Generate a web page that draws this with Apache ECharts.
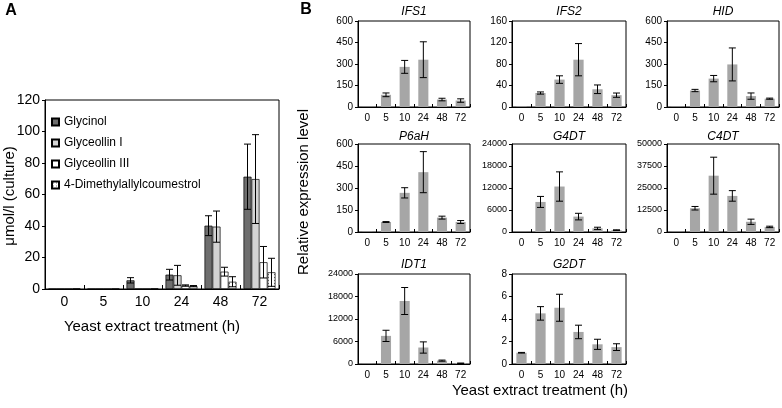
<!DOCTYPE html>
<html><head><meta charset="utf-8">
<script src="https://cdn.jsdelivr.net/npm/echarts@6.0.0/dist/echarts.min.js"></script>
<style>html,body{margin:0;padding:0;background:#fff}#c{width:782px;height:408px}</style>
</head><body><div id="c"></div>
<script>
// ---------- data ----------
const categories = ['0', '5', '10', '24', '48', '72'];

// Panel A (µmol/l culture)
const seriesNamesA = ['Glycinol', 'Glyceollin I', 'Glyceollin III', '4-Dimethylallylcoumestrol'];
const glycinol = [0, 0, 5.5, 9.1, 40.2, 71.3];
const glycinolErr = [0, 0, 1.7, 3.4, 6.3, 20.7];
const glyceollinI = [0, 0, 0, 8.7, 39.6, 69.8];
const glyceollinIErr = [0, 0, 0, 6.3, 9.9, 28.2];
const glyceollinIII = [0, 0, 0, 2.2, 11, 17];
const glyceollinIIIErr = [0, 0, 0, 0.4, 2.8, 10];
const dmc = [0.3, 0.2, 0.3, 1.8, 4.6, 10.6];
const dmcErr = [0, 0, 0, 0.4, 3.2, 8.9];

// Panel B (relative expression level)
const geneNames = ['IFS1', 'IFS2', 'HID', 'P6aH', 'G4DT', 'C4DT', 'IDT1', 'G2DT'];
const ifs1 = [1, 85, 280, 330, 52, 45];
const ifs1Err = [0, 13, 45, 125, 9, 12];
const ifs2 = [1, 26, 51, 88, 33, 22];
const ifs2Err = [0, 2, 7, 30, 8, 4];
const hid = [2, 115, 198, 297, 76, 58];
const hidErr = [0, 8, 22, 115, 22, 4];
const p6ah = [2, 68, 267, 408, 98, 68];
const p6ahErr = [0, 3, 35, 140, 10, 10];
const g4dt = [30, 8200, 12400, 4200, 1000, 500];
const g4dtErr = [0, 1500, 4000, 900, 300, 100];
const c4dt = [100, 13500, 32000, 20500, 5800, 2900];
const c4dtErr = [0, 1000, 10500, 3000, 1500, 400];
const idt1 = [50, 7500, 16800, 4400, 900, 200];
const idt1Err = [0, 1500, 3600, 1500, 150, 50];
const g2dt = [1, 4.5, 5, 2.85, 1.75, 1.5];
const g2dtErr = [0.03, 0.6, 1.2, 0.6, 0.45, 0.3];

// y-axis ticks (max, interval) per gene panel
const yMaxB = [600, 160, 600, 600, 24000, 50000, 24000, 8];
const yIntB = [150, 40, 150, 150, 6000, 12500, 6000, 2];
const yMaxA = 120, yIntA = 20;

// ---------- build ----------
const FONT = '"Liberation Sans", Arial, sans-serif';
const chart = echarts.init(document.getElementById('c'), null, {renderer: 'canvas'});

// dotted pattern for 4-DMC
const pc = document.createElement('canvas');
pc.width = 3; pc.height = 3;
const pctx = pc.getContext('2d');
pctx.fillStyle = '#fff'; pctx.fillRect(0, 0, 3, 3);
pctx.fillStyle = '#777'; pctx.fillRect(1, 1, 1, 1);

const valsA = [glycinol, glyceollinI, glyceollinIII, dmc];
const errsA = [glycinolErr, glyceollinIErr, glyceollinIIIErr, dmcErr];
const colorsA = ['#6e6e6e', '#d3d3d3', '#ffffff', {image: pc, repeat: 'repeat'}];
const valsB = [ifs1, ifs2, hid, p6ah, g4dt, c4dt, idt1, g2dt];
const errsB = [ifs1Err, ifs2Err, hidErr, p6ahErr, g4dtErr, c4dtErr, idt1Err, g2dtErr];

const colLeft = [358, 512, 667], colW = [112, 114, 112];
const rowTop = [21, 144, 274], rowH = [86, 88, 90];

const grids = [{left: 45, top: 100, width: 234, height: 189, show: true, borderColor: '#000', borderWidth: 1}];
for (let i = 0; i < 8; i++) {
  const r = Math.floor(i / 3), c = i % 3;
  grids.push({left: colLeft[c], top: rowTop[r], width: colW[c], height: rowH[r], show: true, borderColor: '#000', borderWidth: 1});
}
const plain = v => String(v);

const xAxes = [], yAxes = [], series = [];
xAxes.push({type: 'category', gridIndex: 0, data: categories,
  axisLine: {lineStyle: {color: '#000', width: 1}},
  axisTick: {show: true, inside: true, length: 4, lineStyle: {color: '#000'}},
  axisLabel: {color: '#000', fontSize: 14, fontFamily: FONT, margin: 6}});
yAxes.push({type: 'value', gridIndex: 0, min: 0, max: yMaxA, interval: yIntA,
  axisLine: {show: true, lineStyle: {color: '#000', width: 1}},
  axisTick: {show: true, length: 3, lineStyle: {color: '#000'}},
  axisLabel: {color: '#000', fontSize: 14, fontFamily: FONT, margin: 5, formatter: plain},
  splitLine: {show: false}});

for (let i = 0; i < 8; i++) {
  const big = yMaxB[i] >= 10000;
  xAxes.push({type: 'category', gridIndex: i + 1, data: categories,
    axisLine: {lineStyle: {color: '#000', width: 1}},
    axisTick: {show: true, inside: true, length: 3, lineStyle: {color: '#000'}},
    axisLabel: {color: '#000', fontSize: 10, fontFamily: FONT, margin: 6}});
  yAxes.push({type: 'value', gridIndex: i + 1, min: 0, max: yMaxB[i], interval: yIntB[i],
    axisLine: {show: true, lineStyle: {color: '#000', width: 1}},
    axisTick: {show: true, length: 3, lineStyle: {color: '#000'}},
    axisLabel: {color: '#000', fontSize: big ? 9 : 10, fontFamily: FONT, margin: 5, formatter: plain},
    splitLine: {show: false}});
}

// Panel A bars
const GAP_A = 0.18;
seriesNamesA.forEach((name, s) => {
  series.push({type: 'bar', name: name, xAxisIndex: 0, yAxisIndex: 0, data: valsA[s],
    barGap: '0%', barCategoryGap: (GAP_A * 100) + '%',
    itemStyle: {color: colorsA[s], borderColor: '#000', borderWidth: 0.7},
    emphasis: {disabled: true}, animation: false});
});
const errDataA = [];
valsA.forEach((arr, s) => arr.forEach((v, k) => {
  const e = errsA[s][k];
  if (e > 0) errDataA.push([k, v - e, v + e, s]);
}));
function capLines(xc, yHi, yLo, cap) {
  const st = {stroke: '#000', lineWidth: 1};
  return {type: 'group', children: [
    {type: 'line', shape: {x1: xc, y1: yHi, x2: xc, y2: yLo}, style: st},
    {type: 'line', shape: {x1: xc - cap, y1: yHi, x2: xc + cap, y2: yHi}, style: st},
    {type: 'line', shape: {x1: xc - cap, y1: yLo, x2: xc + cap, y2: yLo}, style: st}
  ]};
}
series.push({type: 'custom', xAxisIndex: 0, yAxisIndex: 0, data: errDataA, z: 10, animation: false,
  renderItem: function (params, api) {
    const cat = api.value(0), lo = api.value(1), hi = api.value(2), s = api.value(3);
    const band = api.size([1, 0])[0];
    const groupW = band * (1 - GAP_A);
    const bw = groupW / 4;
    const xc = api.coord([cat, 0])[0] - groupW / 2 + bw * (s + 0.5);
    return capLines(xc, api.coord([cat, hi])[1], api.coord([cat, lo])[1], 3.5);
  }});

// Panel B bars
for (let i = 0; i < 8; i++) {
  series.push({type: 'bar', xAxisIndex: i + 1, yAxisIndex: i + 1, data: valsB[i],
    barCategoryGap: '46%', itemStyle: {color: '#a6a6a6'}, emphasis: {disabled: true}, animation: false});
  const ed = [];
  valsB[i].forEach((v, k) => { const e = errsB[i][k]; if (e > 0) ed.push([k, v - e, v + e]); });
  series.push({type: 'custom', xAxisIndex: i + 1, yAxisIndex: i + 1, data: ed, z: 10, animation: false,
    renderItem: function (params, api) {
      const cat = api.value(0), lo = api.value(1), hi = api.value(2);
      const xc = api.coord([cat, 0])[0];
      return capLines(xc, api.coord([cat, hi])[1], api.coord([cat, lo])[1], 3.5);
    }});
}

// texts
const gfx = [];
function txt(t, x, y, font, rot) {
  gfx.push({type: 'text', x: x, y: y, rotation: rot || 0, silent: true,
    style: {text: t, font: font, fill: '#000', textAlign: 'center', textVerticalAlign: 'middle'}});
}
txt('A', 11, 11, 'bold 16px ' + FONT);
txt('B', 306, 10, 'bold 16px ' + FONT);
txt('μmol/l (culture)', 10, 196, '15px ' + FONT, Math.PI / 2);
txt('Yeast extract treatment (h)', 152, 327, '15px ' + FONT);
txt('Relative expression level', 304, 192, '15px ' + FONT, Math.PI / 2);
txt('Yeast extract treatment (h)', 540, 391, '15px ' + FONT);
const titleY = [11.5, 137, 265];
for (let i = 0; i < 8; i++) {
  const r = Math.floor(i / 3), c = i % 3;
  txt(geneNames[i], colLeft[c] + colW[c] / 2, titleY[r], 'italic 12px ' + FONT);
}

chart.setOption({
  animation: false,
  backgroundColor: '#fff',
  grid: grids, xAxis: xAxes, yAxis: yAxes, series: series,
  legend: {data: seriesNamesA, orient: 'vertical', left: 46, top: 110, itemWidth: 7, itemHeight: 7,
    itemGap: 7, icon: 'rect', selectedMode: false,
    textStyle: {fontSize: 12, color: '#000', fontFamily: FONT, lineHeight: 14}},
  graphic: gfx
});
</script></body></html>
